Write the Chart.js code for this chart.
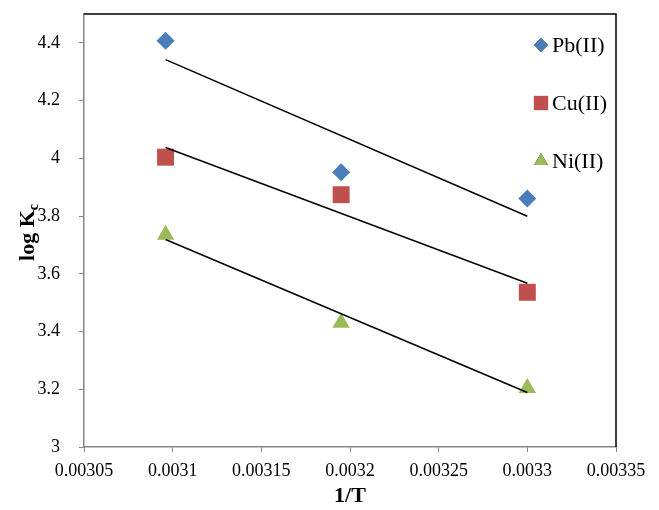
<!DOCTYPE html>
<html>
<head>
<meta charset="utf-8">
<script src="https://cdn.jsdelivr.net/npm/chart.js@4"></script>
<style>
  body { margin: 0; background: #fff; }
  #wrap { width: 659px; height: 510px; }
</style>
</head>
<body>
<div id="wrap"><canvas id="myChart" width="659" height="510"></canvas></div>
<script>
// 1/T values (K^-1)
const invT = [0.003096, 0.003195, 0.0033];
const pbValues = [4.407, 3.952, 3.861];
const cuValues = [4.004, 3.874, 3.536];
const niValues = [3.735, 3.43, 3.204];
const seriesNames = ["Pb(II)", "Cu(II)", "Ni(II)"];
const xTicks = [0.00305, 0.0031, 0.00315, 0.0032, 0.00325, 0.0033, 0.00335];
const yTicks = [3, 3.2, 3.4, 3.6, 3.8, 4, 4.2, 4.4];

const FONT = "'Liberation Serif', 'Times New Roman', serif";
const colors = ["#4a7ebb", "#c0504d", "#9bbb59"];
const shapes = ["rectRot", "rect", "triangle"];
const radii = [9, 12, 10];

// least squares trend line over the data range
function trend(xs, ys) {
  const n = xs.length;
  const mx = xs.reduce((a, b) => a + b, 0) / n;
  const my = ys.reduce((a, b) => a + b, 0) / n;
  let sxy = 0, sxx = 0;
  for (let i = 0; i < n; i++) {
    sxy += (xs[i] - mx) * (ys[i] - my);
    sxx += (xs[i] - mx) * (xs[i] - mx);
  }
  const slope = sxy / sxx;
  const x0 = Math.min(...xs), x1 = Math.max(...xs);
  return [
    { x: x0, y: my + slope * (x0 - mx) },
    { x: x1, y: my + slope * (x1 - mx) },
  ];
}

const allValues = [pbValues, cuValues, niValues];
const datasets = [];
allValues.forEach((vals, i) => {
  datasets.push({
    label: seriesNames[i] + " trend",
    data: trend(invT, vals),
    showLine: true,
    borderColor: "#000",
    borderWidth: 1.5,
    pointRadius: 0,
    pointHoverRadius: 0,
  });
});
allValues.forEach((vals, i) => {
  datasets.push({
    label: seriesNames[i],
    data: invT.map((x, j) => ({ x: x, y: vals[j] })),
    showLine: false,
    pointStyle: shapes[i],
    pointRadius: radii[i],
    backgroundColor: colors[i],
    borderColor: colors[i],
    borderWidth: 0,
  });
});

const framePlugin = {
  id: "frame",
  afterDatasetsDraw(chart) {
    const { ctx, chartArea: a } = chart;
    ctx.save();
    // top and right border
    ctx.strokeStyle = "#000";
    ctx.lineWidth = 1.5;
    ctx.beginPath();
    ctx.moveTo(a.left, a.top);
    ctx.lineTo(a.right, a.top);
    ctx.lineTo(a.right, a.bottom);
    ctx.stroke();

    // legend
    const legendY = [a.top + 31, a.top + 89, a.top + 147];
    const mx = a.right - 75;
    const legendR = [7, 10, 8];
    seriesNames.forEach((name, i) => {
      Chart.helpers.drawPoint(ctx, {
        pointStyle: shapes[i],
        radius: legendR[i],
        rotation: 0,
        borderWidth: 0,
      }, mx, legendY[i]);
      ctx.fillStyle = colors[i];
      ctx.fill();
      ctx.fillStyle = "#000";
      ctx.font = "22px " + FONT;
      ctx.textBaseline = "middle";
      ctx.textAlign = "left";
      ctx.fillText(name, mx + 11, legendY[i] + 1);
    });

    // y axis title: log Kc
    ctx.translate(26, (a.top + a.bottom) / 2 + 2);
    ctx.rotate(-Math.PI / 2);
    const main = "log K";
    ctx.font = "bold 22px " + FONT;
    const w1 = ctx.measureText(main).width;
    ctx.font = "bold 14px " + FONT;
    const w2 = ctx.measureText("c").width;
    const start = -(w1 + w2) / 2;
    ctx.textAlign = "left";
    ctx.textBaseline = "alphabetic";
    ctx.font = "bold 22px " + FONT;
    ctx.fillText(main, start, 8);
    ctx.font = "bold 14px " + FONT;
    ctx.fillText("c", start + w1, 12);
    ctx.restore();
  },
};

const ctx = document.getElementById("myChart").getContext("2d");
new Chart(ctx, {
  type: "scatter",
  data: { datasets: datasets },
  plugins: [framePlugin],
  options: {
    responsive: false,
    animation: false,
    layout: { padding: { left: 0, top: 14, right: 43, bottom: 0 } },
    plugins: {
      legend: { display: false },
      tooltip: { enabled: false },
    },
    scales: {
      x: {
        type: "linear",
        min: 0.00305,
        max: 0.00335,
        afterBuildTicks: (s) => { s.ticks = xTicks.map((v) => ({ value: v })); },
        afterFit: (s) => { s.height = 63; },
        grid: { drawOnChartArea: false, drawTicks: true, tickLength: 5, color: "#868686" },
        border: { color: "#868686", width: 1.5 },
        ticks: {
          color: "#000",
          font: { family: FONT, size: 18 },
          padding: 8,
          maxRotation: 0,
          callback: (v) => Number(v.toFixed(5)).toString(),
        },
        title: {
          display: true,
          text: "1/T",
          color: "#000",
          font: { family: FONT, size: 22, weight: "bold" },
          padding: { top: 1, bottom: 0 },
        },
      },
      y: {
        type: "linear",
        min: 3,
        max: 4.5,
        afterBuildTicks: (s) => { s.ticks = yTicks.map((v) => ({ value: v })); },
        afterFit: (s) => { s.width = 84; s.paddingTop = 0; s.paddingBottom = 0; },
        grid: { drawOnChartArea: false, drawTicks: true, tickLength: 5, color: "#868686" },
        border: { color: "#868686", width: 1.5 },
        ticks: {
          color: "#000",
          font: { family: FONT, size: 18 },
          padding: 19,
          callback: (v) => Number(v.toFixed(1)).toString(),
        },
      },
    },
  },
});
</script>
</body>
</html>
